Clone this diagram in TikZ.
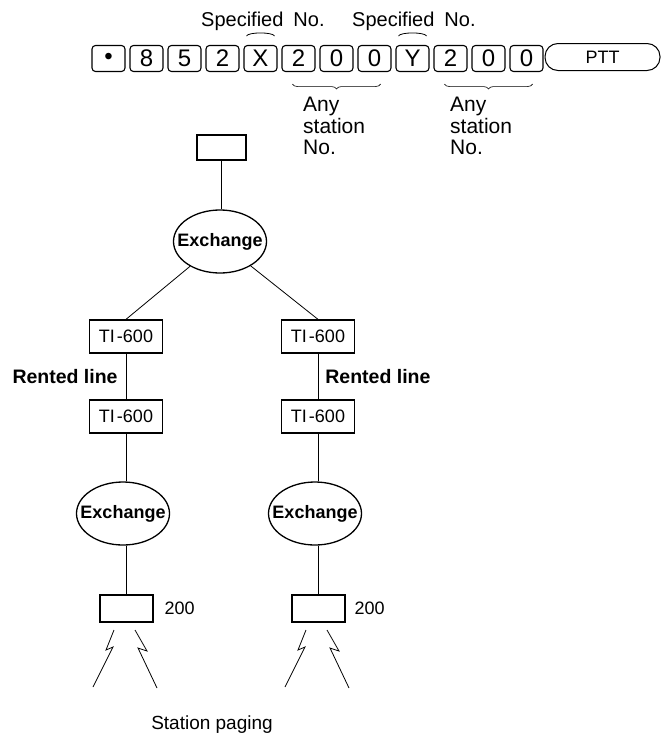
\documentclass[tikz,border=0pt]{standalone}
\usepackage{fontspec}
\setmainfont{Liberation Sans}
\usetikzlibrary{positioning,calc,decorations.pathreplacing,shapes.geometric}

\begin{document}
\begin{tikzpicture}[x=1pt,y=-1pt,
    key/.style={draw,rounded corners=3.5pt,line width=1.1pt,minimum width=33pt,minimum height=26pt,inner sep=0pt,font=\fontsize{24}{24}\selectfont},
    pill/.style={draw,rounded corners=13pt,line width=1pt,minimum width=115pt,minimum height=27pt,inner sep=0pt,font=\fontsize{18}{18}\selectfont},
    spec/.style={inner sep=0pt,font=\fontsize{20}{22}\selectfont},
    anytxt/.style={inner sep=0pt,align=left,font=\fontsize{21}{21.5}\selectfont},
    unit/.style={draw,line width=1.3pt,minimum width=73pt,minimum height=33pt,inner sep=0pt,font=\fontsize{18}{18}\selectfont},
    exch/.style={draw,ellipse,line width=1.3pt,minimum width=93pt,minimum height=63pt,inner xsep=-12pt,inner ysep=0pt,font=\fontsize{18}{18}\selectfont\bfseries},
    sta/.style={draw,line width=2pt,minimum width=53pt,minimum height=27pt,inner sep=0pt},
    note/.style={inner sep=0pt,font=\fontsize{20}{20}\selectfont},
    brc/.style={decorate,decoration={brace,mirror,amplitude=5pt},line width=0.6pt},
    ln/.style={line width=0.8pt}]
    \useasboundingbox (0,0) rectangle (665,736);
    % dialled digits
    \foreach \t [count=\i] in {\textbullet,8,5,2,X,2,0,0,Y,2,0,0}
      \node[key] (k\i) at ({108.5+38*(\i-1)},58.5) {\t};
    \node[pill] (ptt) at (602.5,57) {PTT};
    \node[spec,anchor=base west] (sp1) at (201,27) {Specified\enspace No.};
    \node[spec,anchor=base west] (sp2) at (352,27) {Specified\enspace No.};
    \draw[ln] ($(k5.north)+(-14,-9)$) .. controls ($(k5.north)+(-12,-13)$) and ($(k5.north)+(12,-13)$) .. ($(k5.north)+(14,-9)$);
    \draw[ln] ($(k9.north)+(-14,-9)$) .. controls ($(k9.north)+(-12,-13)$) and ($(k9.north)+(12,-13)$) .. ($(k9.north)+(14,-9)$);
    \draw[brc] ($(k6.south west)+(11,12)$) -- ($(k8.south east)+(-11,12)$);
    \draw[brc] ($(k10.south west)+(11,12)$) -- ($(k12.south east)+(-11,12)$);
    \node[anytxt,anchor=north west] (any1) at (303,97) {Any\\station\\No.};
    \node[anytxt,anchor=north west] (any2) at (450,97) {Any\\station\\No.};
    % network
    \node[draw,line width=1.4pt,minimum width=49pt,minimum height=25pt] (top) at (221.5,147.5) {};
    \node[exch] (ex0) at (220,241.5) {Exchange};
    \node[unit] (t1) at (126,336.5) {TI\kern2pt-600};
    \node[unit] (t2) at (318,336.5) {TI\kern2pt-600};
    \node[unit] (t3) at (126,416.5) {TI\kern2pt-600};
    \node[unit] (t4) at (318,416.5) {TI\kern2pt-600};
    \node[exch] (ex1) at (123,513.5) {Exchange};
    \node[exch] (ex2) at (315,513.5) {Exchange};
    \node[sta] (b1) at (126,608) {};
    \node[sta] (b2) at (318,608) {};
    \node[note,font=\fontsize{18}{18}\selectfont,anchor=west,right=11pt of b1] (n1) {200};
    \node[note,font=\fontsize{18}{18}\selectfont,anchor=west,right=9pt of b2] (n2) {200};
    \node[note,font=\fontsize{19}{19}\selectfont] (pg) at (212,725) {Station paging};
    \draw[ln] (top) -- (top |- ex0.north);
    \draw[ln] (ex0) -- (t1.north);
    \draw[ln] (ex0) -- (t2.north);
    \draw[ln] (t1) -- node[note,font=\fontsize{19.5}{20}\selectfont\bfseries,left=8pt] {Rented line} (t3);
    \draw[ln] (t2) -- node[note,font=\fontsize{19.5}{20}\selectfont\bfseries,right=7pt] {Rented line} (t4);
    \draw[ln] (t3) -- (t3 |- ex1.north);
    \draw[ln] (t4) -- (t4 |- ex2.north);
    \draw[ln] (b1) -- (b1 |- ex1.south);
    \draw[ln] (b2) -- (b2 |- ex2.south);
    \foreach \b in {b1,b2} {
      \draw[ln] ([shift={(-12,7.5)}]\b.south) -- ([shift={(-20,27.5)}]\b.south) -- ([shift={(-13,24.5)}]\b.south) -- ([shift={(-33,64.5)}]\b.south);
      \draw[ln] ([shift={(9,7.5)}]\b.south) -- ([shift={(21,28.5)}]\b.south) -- ([shift={(12,25.5)}]\b.south) -- ([shift={(31,65.5)}]\b.south);
    }
  \end{tikzpicture}
\end{document}
